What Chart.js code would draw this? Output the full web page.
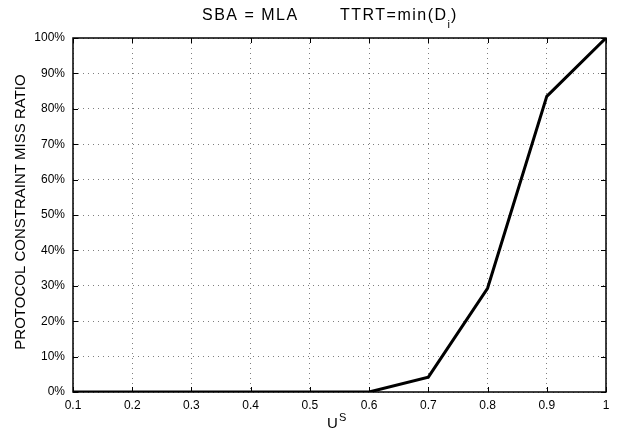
<!DOCTYPE html>
<html>
<head>
<meta charset="utf-8">
<script src="https://cdn.jsdelivr.net/npm/chart.js@4"></script>
<style>
  body { margin: 0; background: #fff; }
  #wrap { width: 618px; height: 433px; position: relative; }
</style>
</head>
<body>
<div id="wrap"><canvas id="chart"></canvas></div>
<script>
const xLabels = ["0.1", "0.2", "0.3", "0.4", "0.5", "0.6", "0.7", "0.8", "0.9", "1"];
const missRatio = [0, 0, 0, 0, 0, 0, 4.2, 29.3, 83.5, 100];
const yTicks = [0, 10, 20, 30, 40, 50, 60, 70, 80, 90, 100];

const FONT = '"Liberation Sans", Arial, Helvetica, sans-serif';

// matlab-ish extras: inward ticks on all sides, box, titles with sub/superscript
const matlabPlugin = {
  id: "matlab",
  afterDraw(chart) {
    const ctx = chart.ctx;
    const a = chart.chartArea;
    const xs = chart.scales.x, ys = chart.scales.y;
    ctx.save();
    ctx.strokeStyle = "#000";
    ctx.lineWidth = 1;
    ctx.beginPath();
    xLabels.forEach((_, i) => {
      const px = Math.round(xs.getPixelForValue(i)) + 0.5;
      ctx.moveTo(px, a.bottom); ctx.lineTo(px, a.bottom - 5);
      ctx.moveTo(px, a.top); ctx.lineTo(px, a.top + 5);
    });
    yTicks.forEach(v => {
      const py = Math.round(ys.getPixelForValue(v)) + 0.5;
      ctx.moveTo(a.left, py); ctx.lineTo(a.left + 5, py);
      ctx.moveTo(a.right, py); ctx.lineTo(a.right - 5, py);
    });
    ctx.stroke();
    ctx.lineWidth = 1.5;
    ctx.strokeRect(a.left, a.top, a.right - a.left, a.bottom - a.top);

    ctx.fillStyle = "#000";
    ctx.textBaseline = "alphabetic";
    ctx.textAlign = "left";
    // title
    ctx.font = "16px " + FONT;
    ctx.letterSpacing = "1.5px";
    ctx.fillText("SBA = MLA", a.left + 129, 20);
    let tx = a.left + 267;
    ctx.fillText("TTRT=min(D", tx, 20);
    tx += ctx.measureText("TTRT=min(D").width;
    ctx.font = "11px " + FONT;
    ctx.letterSpacing = "0px";
    ctx.fillText("i", tx, 28);
    tx += ctx.measureText("i").width + 1;
    ctx.font = "16px " + FONT;
    ctx.fillText(")", tx, 20);

    // x title U^S
    ctx.font = "15px " + FONT;
    ctx.fillText("U", a.left + 254, 428);
    ctx.font = "11px " + FONT;
    ctx.fillText("S", a.left + 266, 421);

    // y title
    ctx.translate(25, 212);
    ctx.rotate(-Math.PI / 2);
    ctx.textAlign = "center";
    ctx.font = "15px " + FONT;
    ctx.fillText("PROTOCOL CONSTRAINT MISS RATIO", 0, 0);
    ctx.restore();
  }
};

new Chart(document.getElementById("chart"), {
  type: "line",
  data: {
    labels: xLabels,
    datasets: [{
      data: missRatio,
      borderColor: "#000",
      borderWidth: 3,
      pointRadius: 0,
      tension: 0,
      fill: false
    }]
  },
  options: {
    responsive: true,
    maintainAspectRatio: false,
    animation: false,
    layout: { padding: { top: 38, right: 12, left: 0, bottom: 0 } },
    plugins: { legend: { display: false }, title: { display: false }, tooltip: { enabled: false } },
    scales: {
      x: {
        type: "category",
        offset: false,
        grid: { color: "rgba(0,0,0,0.5)", drawTicks: false, offset: false, tickBorderDash: [1, 4] },
        border: { display: false, dash: [1, 4] },
        ticks: { color: "#000", font: { size: 12, family: FONT }, padding: 6, maxRotation: 0 },
        afterFit(scale) { scale.height = 41; }
      },
      y: {
        min: 0,
        max: 100,
        grid: { color: "rgba(0,0,0,0.5)", drawTicks: false },
        border: { display: false, dash: [1, 4] },
        ticks: {
          stepSize: 10,
          color: "#000",
          font: { size: 12, family: FONT },
          padding: 8,
          callback: v => v + "%"
        },
        afterFit(scale) { scale.width = 73; }
      }
    }
  },
  plugins: [matlabPlugin]
});
</script>
</body>
</html>
